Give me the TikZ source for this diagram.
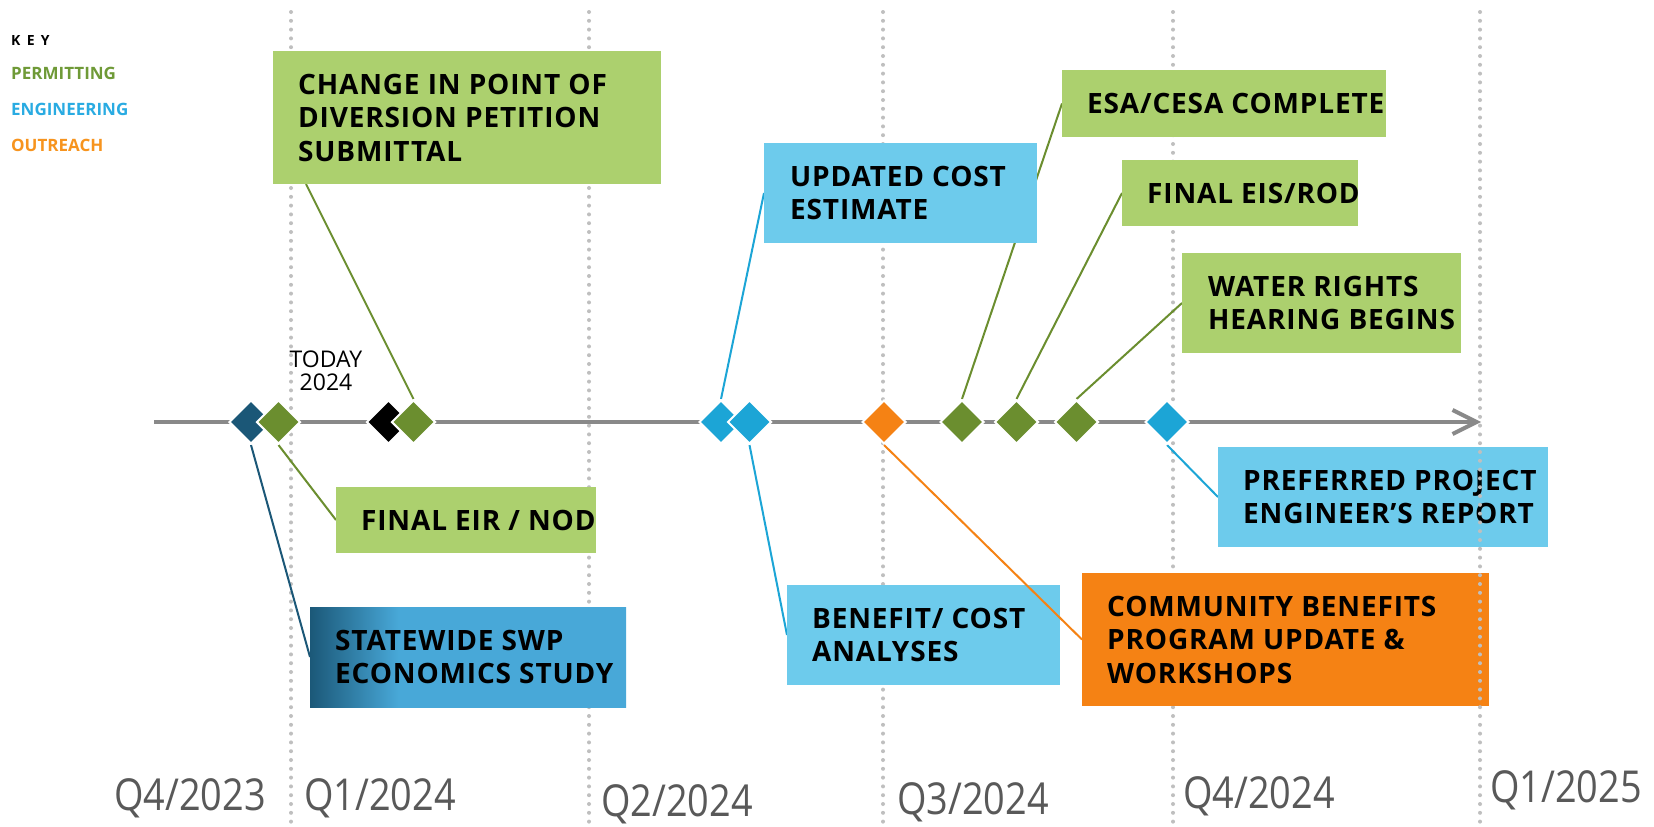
\documentclass[tikz,border=0pt]{standalone}
\usepackage{fontspec}
\setmainfont{Open Sans}
\newfontfamily\qfont[FakeStretch=0.86]{Open Sans}
\newfontfamily\boxfam[LetterSpace=3]{Open Sans}
\newfontfamily\keyfam[LetterSpace=45]{Open Sans}
\usetikzlibrary{shapes.geometric,arrows.meta}
\definecolor{lgreen}{RGB}{172,208,110}
\definecolor{dgreen}{RGB}{107,142,47}
\definecolor{lblue}{RGB}{109,203,236}
\definecolor{mblue}{RGB}{28,165,214}
\definecolor{dblue}{RGB}{27,87,119}
\definecolor{swlight}{RGB}{72,168,216}
\definecolor{swdark}{RGB}{27,88,120}
\definecolor{orng}{RGB}{245,130,20}
\definecolor{tlgray}{RGB}{137,137,137}
\definecolor{dotgray}{RGB}{191,191,191}
\definecolor{qgray}{RGB}{89,89,89}
\definecolor{kgreen}{RGB}{111,154,55}
\definecolor{kblue}{RGB}{41,171,226}
\definecolor{korange}{RGB}{247,148,30}
\pgfdeclarehorizontalshading{swshade}{100bp}{color(0bp)=(swdark); color(25bp)=(swdark); color(39bp)=(swlight); color(100bp)=(swlight)}
\pgfdeclarelayer{bg}
\pgfdeclarelayer{mid}
\pgfdeclarelayer{fg}
\pgfsetlayers{bg,mid,main,fg}
\begin{document}
\begin{tikzpicture}[x=1pt,y=-1pt,
  boxshape/.style={rectangle, inner sep=0pt, outer sep=0pt},
  boxtext/.style={anchor=west, align=left, inner sep=0pt, text=black,
    font=\boxfam\bfseries\fontsize{28}{33.5}\selectfont},
  dia/.style={diamond, aspect=1, minimum width=44pt, minimum height=44pt,
    inner sep=0pt, draw=white, line width=2pt},
  conn/.style={line width=2pt},
  guide/.style={dotgray, line width=4pt, line cap=round, dash pattern=on 0pt off 8.8pt},
  qlabel/.style={anchor=base west, inner sep=0pt, text=qgray, font=\qfont\fontsize{44}{44}\selectfont},
  keylabel/.style={anchor=base west, inner sep=0pt, font=\bfseries\fontsize{17}{17}\selectfont}
]
\begin{pgfonlayer}{bg}
\useasboundingbox[fill=white] (0,0) rectangle (1654,825);
\end{pgfonlayer}

% guide coordinates
\coordinate (g1t) at (291,12); \coordinate (g1b) at (291,825);
\coordinate (g2t) at (589,12); \coordinate (g2b) at (589,825);
\coordinate (g3t) at (883,12); \coordinate (g3b) at (883,825);
\coordinate (g4t) at (1173,12); \coordinate (g4b) at (1173,825);
\coordinate (g5t) at (1480,12); \coordinate (g5b) at (1480,825);
\coordinate (tl0) at (154,422); \coordinate (tl1) at (1481,422);

% boxes
\node[boxshape, fill=lgreen, minimum width=388pt, minimum height=133pt] (chg) at (467,117.5) {};
\node[boxshape, fill=lblue, minimum width=273pt, minimum height=100pt] (cost) at (900.5,193) {};
\node[boxshape, fill=lgreen, minimum width=324pt, minimum height=67pt] (esa) at (1224,103.5) {};
\node[boxshape, fill=lgreen, minimum width=236pt, minimum height=66pt] (eis) at (1240,193) {};
\node[boxshape, fill=lgreen, minimum width=279pt, minimum height=100pt] (water) at (1321.5,303) {};
\node[boxshape, fill=lgreen, minimum width=260pt, minimum height=66pt] (eir) at (466,520) {};
\node[boxshape, shading=swshade, minimum width=316pt, minimum height=100pt] (sw) at (468,657) {};
\node[boxshape, fill=lblue, minimum width=330pt, minimum height=100pt] (pref) at (1383,497) {};
\node[boxshape, fill=lblue, minimum width=273pt, minimum height=100pt] (ben) at (923.5,635) {};
\node[boxshape, fill=orng, minimum width=407pt, minimum height=133pt] (com) at (1285.5,639.5) {};

% box texts
\node[boxtext] (chgT) at ([xshift=25pt]chg.west) {CHANGE IN POINT OF\\DIVERSION PETITION\\SUBMITTAL};
\node[boxtext] (costT) at ([xshift=26pt]cost.west) {UPDATED COST\\ESTIMATE};
\node[boxtext] (esaT) at ([xshift=25pt]esa.west) {ESA/CESA COMPLETE};
\node[boxtext] (eisT) at ([xshift=25pt]eis.west) {FINAL EIS/ROD};
\node[boxtext] (waterT) at ([xshift=26pt]water.west) {WATER RIGHTS\\HEARING BEGINS};
\node[boxtext] (eirT) at ([xshift=25pt]eir.west) {FINAL EIR / NOD};
\node[boxtext] (swT) at ([xshift=25pt]sw.west) {STATEWIDE SWP\\ECONOMICS STUDY};
\node[boxtext] (prefT) at ([xshift=25pt]pref.west) {PREFERRED PROJECT\\ENGINEER’S REPORT};
\node[boxtext] (benT) at ([xshift=25pt]ben.west) {BENEFIT/ COST\\ANALYSES};
\node[boxtext] (comT) at ([xshift=25pt]com.west) {COMMUNITY BENEFITS\\PROGRAM UPDATE \&\\WORKSHOPS};

% diamonds
\node[dia, fill=dblue] (d1) at (251,422) {};
\node[dia, fill=dgreen] (d2) at (278.5,422) {};
\node[dia, fill=black] (d3) at (388.5,422) {};
\node[dia, fill=dgreen] (d4) at (413.5,422) {};
\node[dia, fill=mblue] (d5) at (721,422) {};
\node[dia, fill=mblue] (d6) at (749.5,422) {};
\node[dia, fill=orng] (d7) at (884,422) {};
\node[dia, fill=dgreen] (d8) at (962,422) {};
\node[dia, fill=dgreen] (d9) at (1016.5,422) {};
\node[dia, fill=dgreen] (d10) at (1076.5,422) {};
\node[dia, fill=mblue] (d11) at (1167,422) {};

% key
\node[anchor=base west, inner sep=0pt, font=\keyfam\bfseries\fontsize{14}{14}\selectfont] (key) at (11,45) {KEY};
\node[keylabel, text=kgreen] (kperm) at (11,79) {PERMITTING};
\node[keylabel, text=kblue] (keng) at (11,115) {ENGINEERING};
\node[keylabel, text=korange] (kout) at (11,151) {OUTREACH};

% today
\node[anchor=base, inner sep=0pt, font=\fontsize{23}{23}\selectfont] (today) at (326,367) {TODAY};
\node[anchor=base, inner sep=0pt, font=\fontsize{23}{23}\selectfont] (tyear) at (326,390) {2024};

% quarter labels
\node[qlabel] (q1) at (114,810) {Q4/2023};
\node[qlabel] (q2) at (304,810) {Q1/2024};
\node[qlabel] (q3) at (601,816) {Q2/2024};
\node[qlabel] (q4) at (897,814) {Q3/2024};
\node[qlabel] (q5) at (1183,808) {Q4/2024};
\node[qlabel] (q6) at (1490,802) {Q1/2025};

\begin{pgfonlayer}{bg}
\draw[guide] (g1t) -- (g1b);
\draw[guide] (g2t) -- (g2b);
\draw[guide] (g3t) -- (g3b);
\draw[guide] (g4t) -- (g4b);
\end{pgfonlayer}

\begin{pgfonlayer}{mid}
\draw[tlgray, line width=4pt, -{Straight Barb[length=24pt,width=24pt]}] (tl0) -- (tl1);
\draw[conn, dgreen] (d4.north) -- (chg.south -| 306,0);
\draw[conn, dblue] (d1.south) -- (sw.west);
\draw[conn, dgreen] (d2.south) -- (eir.west);
\draw[conn, mblue] (d5.north) -- (cost.west);
\draw[conn, mblue] (d6.south) -- (ben.west);
\draw[conn, dgreen] (d8.north) -- (esa.west);
\draw[conn, dgreen] (d9.north) -- (eis.west);
\draw[conn, dgreen] (d10.north) -- (water.west);
\draw[conn, mblue] (d11.south) -- (pref.west);
\end{pgfonlayer}

\begin{pgfonlayer}{fg}
\draw[conn, orng] (d7.south) -- (com.west);
\draw[guide] (g5t) -- (g5b);
\end{pgfonlayer}
\end{tikzpicture}
\end{document}
